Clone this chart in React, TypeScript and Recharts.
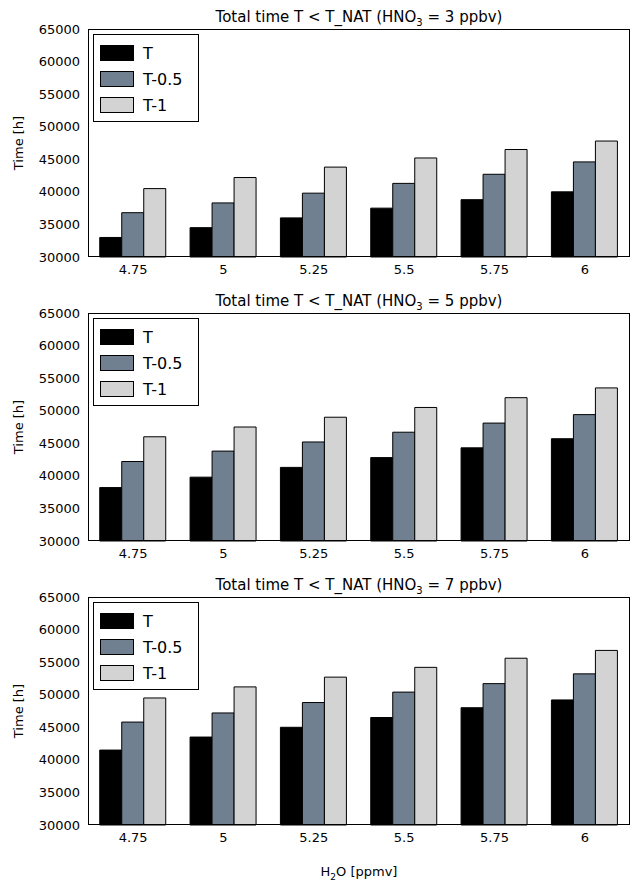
import { Bar, BarChart, XAxis, YAxis } from 'recharts';

const categories = ['4.75', '5', '5.25', '5.5', '5.75', '6'];
const hno3Levels = [3, 5, 7];
const seriesNames = ['T', 'T-0.5', 'T-1'];
const seriesColors = ['#000000', '#708090', '#d3d3d3'];
const yTicks = [30000, 35000, 40000, 45000, 50000, 55000, 60000, 65000];

const tValues = [
  [33000, 34500, 36000, 37500, 38800, 40000],
  [38200, 39800, 41300, 42800, 44300, 45700],
  [41500, 43500, 45000, 46500, 48000, 49200],
];
const tHalfValues = [
  [36800, 38300, 39800, 41300, 42700, 44600],
  [42200, 43800, 45200, 46700, 48100, 49400],
  [45800, 47200, 48800, 50400, 51700, 53200],
];
const tOneValues = [
  [40500, 42200, 43800, 45200, 46500, 47800],
  [46000, 47500, 49000, 50500, 52000, 53500],
  [49500, 51200, 52700, 54200, 55600, 56800],
];

const font = 'DejaVu Sans, sans-serif';
const PLOT_L = 88;
const PLOT_R = 630;
const PLOT_T = 29;
const PLOT_H = 228;

function Panel({ i }: { i: number }) {
  const data = categories.map((c, k) => ({
    c,
    T: tValues[i][k],
    'T-0.5': tHalfValues[i][k],
    'T-1': tOneValues[i][k],
  }));
  const last = i === 2;
  const h = last ? 314 : 284;
  return (
    <div style={{ position: 'absolute', left: 0, top: i * 284, width: 638, height: h, fontFamily: font }}>
      <BarChart
        width={638}
        height={h}
        data={data}
        margin={{ top: PLOT_T, right: 638 - PLOT_R, left: 0, bottom: h - PLOT_T - PLOT_H - 30 }}
        barGap={0}
        barCategoryGap="13%"
      >
        <XAxis
          dataKey="c"
          tick={{ fill: '#000', fontSize: 13, fontFamily: font }}
          tickLine={false}
          axisLine={false}
          height={30}
        />
        <YAxis
          domain={[30000, 65000]}
          ticks={yTicks}
          width={PLOT_L}
          tick={{ fill: '#000', fontSize: 13, fontFamily: font }}
          tickLine={false}
          axisLine={false}
          label={{ value: 'Time [h]', angle: -90, position: 'insideLeft', offset: 18, style: { fontSize: 13, fontFamily: font, fill: '#000', textAnchor: 'middle' } }}
        />
        {seriesNames.map((s, k) => (
          <Bar key={s} dataKey={s} fill={seriesColors[k]} stroke="#000" strokeWidth={1} isAnimationActive={false} />
        ))}
      </BarChart>
      <div style={{ position: 'absolute', left: PLOT_L, top: PLOT_T, width: PLOT_R - PLOT_L, height: PLOT_H, border: '1px solid #000', boxSizing: 'border-box', pointerEvents: 'none' }} />
      <div style={{ position: 'absolute', left: PLOT_L, width: PLOT_R - PLOT_L, top: 8, textAlign: 'center', fontSize: 15 }}>
        Total time T &lt; T_NAT (HNO<sub style={{ fontSize: 10 }}>3</sub> = {hno3Levels[i]} ppbv)
      </div>
      <div style={{ position: 'absolute', left: PLOT_L + 5, top: PLOT_T + 5, width: 106, height: 88, border: '1px solid #000', background: '#fff', boxSizing: 'border-box', padding: '5px 6px' }}>
        {seriesNames.map((s, k) => (
          <div key={s} style={{ display: 'flex', alignItems: 'center', height: 26, fontSize: 16 }}>
            <div style={{ width: 34, height: 16, background: seriesColors[k], border: '1px solid #000', boxSizing: 'border-box', marginRight: 9 }} />
            {s}
          </div>
        ))}
      </div>
      {last && (
        <div style={{ position: 'absolute', left: PLOT_L, width: PLOT_R - PLOT_L, top: 296, textAlign: 'center', fontSize: 13 }}>
          H<sub style={{ fontSize: 9 }}>2</sub>O [ppmv]
        </div>
      )}
    </div>
  );
}

export default function App() {
  return (
    <div style={{ position: 'absolute', left: 0, top: 0, width: 638, height: 882, background: '#fff' }}>
      {hno3Levels.map((_, i) => (
        <Panel key={i} i={i} />
      ))}
    </div>
  );
}
